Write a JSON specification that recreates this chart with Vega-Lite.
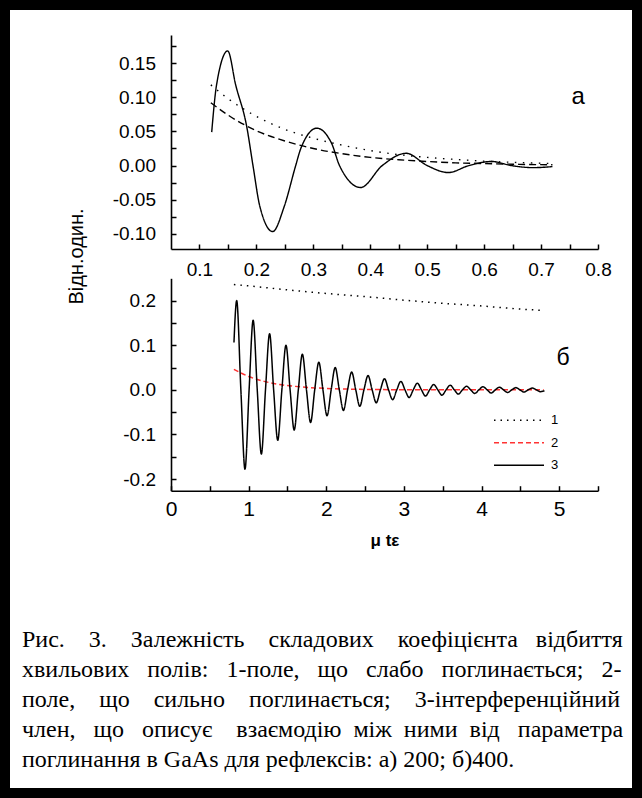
{
  "$schema": "https://vega.github.io/schema/vega-lite/v6.json",
  "width": 642,
  "height": 798,
  "autosize": "none",
  "padding": 0,
  "background": "white",
  "config": {
    "view": {"stroke": "black", "strokeWidth": 20},
    "axis": {
      "domainColor": "black", "domainWidth": 1.6,
      "tickColor": "black", "tickWidth": 1.5, "tickSize": -5,
      "labelColor": "black", "labelFont": "Liberation Sans", "labelFontSize": 19,
      "grid": false, "labelFlush": false, "labelOverlap": false, "labelBound": false,
      "titleColor": "black", "titleFont": "Liberation Sans"
    }
  },
  "title": {
    "text": [
      "Рис. \u00a0\u00a0\u00a03. \u00a0\u00a0\u00a0Залежність \u00a0\u00a0\u00a0складових \u00a0\u00a0\u00a0коефіцієнта \u00a0\u00a0відбиття",
      "хвильових \u00a0\u00a0полів: \u00a0\u00a01-поле, \u00a0\u00a0що \u00a0\u00a0слабо \u00a0\u00a0поглинається; \u00a0\u00a02-",
      "поле, \u00a0\u00a0\u00a0що \u00a0\u00a0\u00a0сильно \u00a0\u00a0\u00a0поглинається; \u00a0\u00a0\u00a03-інтерференційний",
      "член, \u00a0\u00a0що \u00a0\u00a0описує \u00a0\u00a0\u00a0взаємодію \u00a0між \u00a0ними \u00a0від \u00a0\u00a0параметра",
      "поглинання в GaAs для рефлексів: а) 200; б)400."
    ],
    "orient": "bottom", "anchor": "start", "frame": "group", "offset": -150.7,
    "baseline": "alphabetic", "align": "left", "dx": 22,
    "font": "Liberation Serif", "fontSize": 24, "fontWeight": "normal", "color": "black", "lineHeight": 30
  },
  "datasets": {
    "a": [
      {"x": 0.12, "y": 0.118, "s": "1"}, {"x": 0.15, "y": 0.098, "s": "1"}, {"x": 0.2, "y": 0.072, "s": "1"},
      {"x": 0.25, "y": 0.053, "s": "1"}, {"x": 0.3, "y": 0.040, "s": "1"}, {"x": 0.35, "y": 0.030, "s": "1"},
      {"x": 0.4, "y": 0.022, "s": "1"}, {"x": 0.45, "y": 0.016, "s": "1"}, {"x": 0.5, "y": 0.012, "s": "1"},
      {"x": 0.55, "y": 0.009, "s": "1"}, {"x": 0.6, "y": 0.0065, "s": "1"}, {"x": 0.65, "y": 0.0048, "s": "1"},
      {"x": 0.72, "y": 0.003, "s": "1"},
      {"x": 0.12, "y": 0.092, "s": "2"}, {"x": 0.15, "y": 0.074, "s": "2"}, {"x": 0.2, "y": 0.051, "s": "2"},
      {"x": 0.25, "y": 0.036, "s": "2"}, {"x": 0.3, "y": 0.025, "s": "2"}, {"x": 0.35, "y": 0.0175, "s": "2"},
      {"x": 0.4, "y": 0.012, "s": "2"}, {"x": 0.45, "y": 0.0085, "s": "2"}, {"x": 0.5, "y": 0.006, "s": "2"},
      {"x": 0.55, "y": 0.004, "s": "2"}, {"x": 0.6, "y": 0.003, "s": "2"}, {"x": 0.65, "y": 0.002, "s": "2"},
      {"x": 0.72, "y": 0.0012, "s": "2"},
      {"x": 0.1215, "y": 0.049, "s": "3"}, {"x": 0.130, "y": 0.118, "s": "3"}, {"x": 0.1496, "y": 0.1677, "s": "3"},
      {"x": 0.1636, "y": 0.118, "s": "3"}, {"x": 0.183, "y": 0.057, "s": "3"}, {"x": 0.194, "y": 0.0, "s": "3"},
      {"x": 0.206, "y": -0.0595, "s": "3"}, {"x": 0.2285, "y": -0.0965, "s": "3"}, {"x": 0.249, "y": -0.0595, "s": "3"},
      {"x": 0.269, "y": 0.0, "s": "3"}, {"x": 0.278, "y": 0.025, "s": "3"}, {"x": 0.306, "y": 0.0547, "s": "3"},
      {"x": 0.332, "y": 0.0327, "s": "3"}, {"x": 0.346, "y": 0.0, "s": "3"}, {"x": 0.383, "y": -0.0321, "s": "3"},
      {"x": 0.421, "y": 0.0, "s": "3"}, {"x": 0.463, "y": 0.018, "s": "3"}, {"x": 0.50, "y": 0.0, "s": "3"},
      {"x": 0.537, "y": -0.0102, "s": "3"}, {"x": 0.573, "y": 0.0, "s": "3"}, {"x": 0.613, "y": 0.006, "s": "3"},
      {"x": 0.648, "y": 0.0, "s": "3"}, {"x": 0.686, "y": -0.003, "s": "3"}, {"x": 0.72, "y": -0.0015, "s": "3"}
    ],
    "b": [
      {"x": 0.81, "y": 0.236, "s": "1"}, {"x": 1.0, "y": 0.233, "s": "1"}, {"x": 1.5, "y": 0.224, "s": "1"},
      {"x": 2.0, "y": 0.216, "s": "1"}, {"x": 2.5, "y": 0.209, "s": "1"}, {"x": 3.0, "y": 0.201, "s": "1"},
      {"x": 3.5, "y": 0.194, "s": "1"}, {"x": 4.0, "y": 0.188, "s": "1"}, {"x": 4.5, "y": 0.181, "s": "1"},
      {"x": 4.8, "y": 0.178, "s": "1"},
      {"x": 0.81, "y": 0.046, "s": "2"}, {"x": 0.9, "y": 0.038, "s": "2"}, {"x": 1.0, "y": 0.030, "s": "2"},
      {"x": 1.2, "y": 0.019, "s": "2"}, {"x": 1.4, "y": 0.012, "s": "2"}, {"x": 1.6, "y": 0.0078, "s": "2"},
      {"x": 1.8, "y": 0.005, "s": "2"}, {"x": 2.0, "y": 0.0032, "s": "2"}, {"x": 2.5, "y": 0.001, "s": "2"},
      {"x": 3.0, "y": 0.0003, "s": "2"}, {"x": 3.5, "y": 0.0001, "s": "2"}, {"x": 4.0, "y": 0.0, "s": "2"},
      {"x": 4.8, "y": 0.0, "s": "2"},
      {"x": 0.811, "y": 0.106, "s": "3"},
      {"x": 0.846, "y": 0.200, "s": "3"}, {"x": 0.900, "y": 0, "s": "3"}, {"x": 0.953, "y": -0.178, "s": "3"}, {"x": 1.006, "y": 0, "s": "3"},
      {"x": 1.058, "y": 0.156, "s": "3"}, {"x": 1.111, "y": 0, "s": "3"}, {"x": 1.164, "y": -0.144, "s": "3"}, {"x": 1.217, "y": 0, "s": "3"},
      {"x": 1.270, "y": 0.126, "s": "3"}, {"x": 1.322, "y": 0, "s": "3"}, {"x": 1.375, "y": -0.113, "s": "3"}, {"x": 1.428, "y": 0, "s": "3"},
      {"x": 1.481, "y": 0.100, "s": "3"}, {"x": 1.534, "y": 0, "s": "3"}, {"x": 1.587, "y": -0.090, "s": "3"}, {"x": 1.640, "y": 0, "s": "3"},
      {"x": 1.692, "y": 0.080, "s": "3"}, {"x": 1.745, "y": 0, "s": "3"}, {"x": 1.798, "y": -0.073, "s": "3"}, {"x": 1.851, "y": 0, "s": "3"},
      {"x": 1.904, "y": 0.062, "s": "3"}, {"x": 1.957, "y": 0, "s": "3"}, {"x": 2.010, "y": -0.058, "s": "3"}, {"x": 2.063, "y": 0, "s": "3"},
      {"x": 2.115, "y": 0.050, "s": "3"}, {"x": 2.168, "y": 0, "s": "3"}, {"x": 2.221, "y": -0.046, "s": "3"}, {"x": 2.274, "y": 0, "s": "3"},
      {"x": 2.327, "y": 0.040, "s": "3"}, {"x": 2.380, "y": 0, "s": "3"}, {"x": 2.432, "y": -0.037, "s": "3"}, {"x": 2.485, "y": 0, "s": "3"},
      {"x": 2.538, "y": 0.032, "s": "3"}, {"x": 2.591, "y": 0, "s": "3"}, {"x": 2.644, "y": -0.029, "s": "3"}, {"x": 2.697, "y": 0, "s": "3"},
      {"x": 2.750, "y": 0.025, "s": "3"}, {"x": 2.802, "y": 0, "s": "3"}, {"x": 2.855, "y": -0.022, "s": "3"}, {"x": 2.908, "y": 0, "s": "3"},
      {"x": 2.961, "y": 0.019, "s": "3"}, {"x": 3.014, "y": 0, "s": "3"}, {"x": 3.067, "y": -0.017, "s": "3"}, {"x": 3.120, "y": 0, "s": "3"},
      {"x": 3.173, "y": 0.015, "s": "3"}, {"x": 3.226, "y": 0, "s": "3"}, {"x": 3.278, "y": -0.014, "s": "3"}, {"x": 3.331, "y": 0, "s": "3"},
      {"x": 3.384, "y": 0.012, "s": "3"}, {"x": 3.437, "y": 0, "s": "3"}, {"x": 3.490, "y": -0.012, "s": "3"}, {"x": 3.543, "y": 0, "s": "3"},
      {"x": 3.596, "y": 0.0105, "s": "3"}, {"x": 3.649, "y": 0, "s": "3"}, {"x": 3.701, "y": -0.0095, "s": "3"}, {"x": 3.754, "y": 0, "s": "3"},
      {"x": 3.807, "y": 0.008, "s": "3"}, {"x": 3.860, "y": 0, "s": "3"}, {"x": 3.913, "y": -0.008, "s": "3"}, {"x": 3.966, "y": 0, "s": "3"},
      {"x": 4.019, "y": 0.007, "s": "3"}, {"x": 4.072, "y": 0, "s": "3"}, {"x": 4.124, "y": -0.007, "s": "3"}, {"x": 4.177, "y": 0, "s": "3"},
      {"x": 4.230, "y": 0.006, "s": "3"}, {"x": 4.283, "y": 0, "s": "3"}, {"x": 4.336, "y": -0.006, "s": "3"}, {"x": 4.389, "y": 0, "s": "3"},
      {"x": 4.442, "y": 0.005, "s": "3"}, {"x": 4.495, "y": 0, "s": "3"}, {"x": 4.547, "y": -0.005, "s": "3"}, {"x": 4.600, "y": 0, "s": "3"},
      {"x": 4.653, "y": 0.004, "s": "3"}, {"x": 4.706, "y": 0, "s": "3"}, {"x": 4.758, "y": -0.004, "s": "3"}, {"x": 4.81, "y": -0.002, "s": "3"}
    ]
  },
  "layer": [
    {
      "data": {"name": "a"},
      "layer": [
        {
          "mark": {"type": "line", "interpolate": "monotone", "color": "black", "strokeWidth": 1.4},
          "encoding": {
            "x": {
              "field": "x", "type": "quantitative",
              "scale": {"domain": [0.05, 0.8], "range": [171, 598], "nice": false, "zero": false},
              "axis": {
                "orient": "bottom", "offset": -549, "title": null,
                "values": [0.1, 0.15, 0.2, 0.25, 0.3, 0.35, 0.4, 0.45, 0.5, 0.55, 0.6, 0.65, 0.7, 0.75, 0.8],
                "labelExpr": "abs(datum.value * 10 - round(datum.value * 10)) < 0.001 ? format(datum.value, '.1f') : ''",
                "labelPadding": 16.3
              }
            },
            "y": {
              "field": "y", "type": "quantitative",
              "scale": {"domain": [-0.122, 0.191], "range": [249, 35], "nice": false, "zero": false},
              "axis": {
                "orient": "left", "offset": -171, "title": null,
                "values": [-0.1, -0.075, -0.05, -0.025, 0, 0.025, 0.05, 0.075, 0.1, 0.125, 0.15, 0.175],
                "labelExpr": "abs(datum.value * 20 - round(datum.value * 20)) < 0.001 ? replace(format(datum.value, '.2f'), '\u2212', '-') : ''",
                "labelPadding": 20.5
              }
            },
            "strokeDash": {
              "field": "s", "type": "nominal",
              "scale": {"domain": ["1", "2", "3"], "range": [[1.5, 6.5], [7, 4], [1, 0]]},
              "legend": null
            }
          }
        },
        {
          "data": {"values": [{"x": 0.765, "y": 0.1, "t": "а"}]},
          "mark": {"type": "text", "font": "Liberation Sans", "fontSize": 24, "color": "black", "align": "center", "baseline": "middle"},
          "encoding": {
            "x": {"field": "x", "type": "quantitative"},
            "y": {"field": "y", "type": "quantitative"},
            "text": {"field": "t"}
          }
        }
      ]
    },
    {
      "data": {"name": "b"},
      "layer": [
        {
          "mark": {"type": "line", "interpolate": "monotone", "strokeWidth": 1.5},
          "encoding": {
            "x": {
              "field": "x", "type": "quantitative",
              "scale": {"domain": [0, 5.5], "range": [171, 598], "nice": false, "zero": false},
              "axis": {
                "orient": "bottom", "offset": -307.3, "title": "μ tε",
                "titleFontSize": 17, "titleFontWeight": "bold", "titleY": 54.3, "titleBaseline": "alphabetic",
                "values": [0, 0.5, 1, 1.5, 2, 2.5, 3, 3.5, 4, 4.5, 5, 5.5],
                "labelExpr": "abs(datum.value - round(datum.value)) < 0.001 ? format(datum.value, 'd') : ''",
                "labelPadding": 12.8, "labelFontSize": 21
              }
            },
            "y": {
              "field": "y", "type": "quantitative",
              "scale": {"domain": [-0.226, 0.25], "range": [490.7, 278.3], "nice": false, "zero": false},
              "axis": {
                "orient": "left", "offset": -171, "title": "Відн.один.",
                "titleX": -94.3, "titleY": 256, "titleAngle": 270, "titleAlign": "center", "titleBaseline": "middle",
                "titleFontSize": 20, "titleFontWeight": "normal",
                "values": [-0.2, -0.15, -0.1, -0.05, 0, 0.05, 0.1, 0.15, 0.2],
                "labelExpr": "abs(datum.value * 10 - round(datum.value * 10)) < 0.001 ? replace(format(datum.value, '.1f'), '\u2212', '-') : ''",
                "labelPadding": 20.5
              }
            },
            "color": {
              "field": "s", "type": "nominal",
              "scale": {"domain": ["1", "2", "3"], "range": ["black", "#ff3333", "black"]},
              "legend": {
                "orient": "none", "legendX": 512.5, "legendY": 413.8, "title": null,
                "symbolType": "M-5,0H5", "symbolSize": 100, "symbolStrokeWidth": 1.5,
                "labelFont": "Liberation Sans", "labelFontSize": 13, "labelColor": "black",
                "labelOffset": 25.5, "rowPadding": 8.5, "padding": 0
              }
            },
            "strokeDash": {
              "field": "s", "type": "nominal",
              "scale": {"domain": ["1", "2", "3"], "range": [[1.5, 5], [5, 3], [1, 0]]},
              "legend": {
                "orient": "none", "legendX": 512.5, "legendY": 413.8, "title": null,
                "symbolType": "M-5,0H5", "symbolSize": 100, "symbolStrokeWidth": 1.5,
                "labelFont": "Liberation Sans", "labelFontSize": 13, "labelColor": "black",
                "labelOffset": 25.5, "rowPadding": 8.5, "padding": 0
              }
            }
          }
        },
        {
          "data": {"values": [{"x": 5.05, "y": 0.071, "t": "б"}]},
          "mark": {"type": "text", "font": "Liberation Sans", "fontSize": 23, "color": "black", "align": "center", "baseline": "middle"},
          "encoding": {
            "x": {"field": "x", "type": "quantitative"},
            "y": {"field": "y", "type": "quantitative"},
            "text": {"field": "t"}
          }
        }
      ]
    }
  ],
  "resolve": {
    "scale": {"x": "independent", "y": "independent", "strokeDash": "independent", "color": "independent"},
    "axis": {"x": "independent", "y": "independent"},
    "legend": {"strokeDash": "independent", "color": "independent"}
  }
}
